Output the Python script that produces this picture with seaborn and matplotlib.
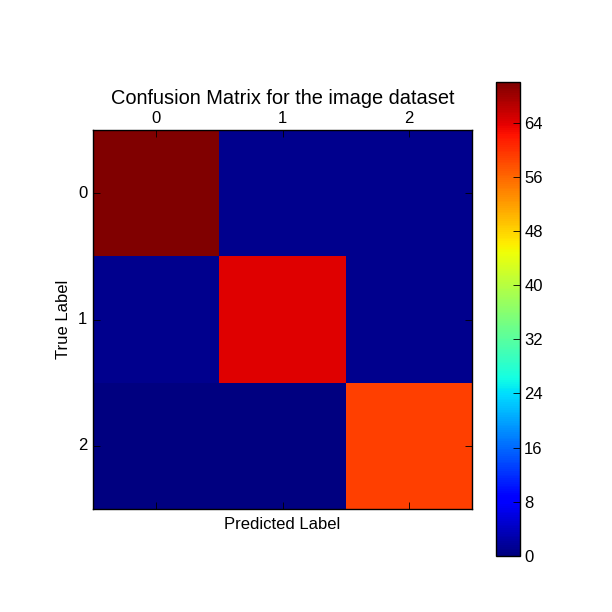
import matplotlib

matplotlib.use("Agg")
import matplotlib.pyplot as plt
import numpy as np
import seaborn as sns

class_labels = ["0", "1", "2"]
row_0 = [70, 1, 1]
row_1 = [1, 64, 1]
row_2 = [0, 0, 59]
cbar_ticks = [0, 8, 16, 24, 32, 40, 48, 56, 64]

sns.set_theme(style="white")
plt.rcParams["font.family"] = ["Liberation Sans", "DejaVu Sans"]

conf_mat = np.array([row_0, row_1, row_2])

fig = plt.figure(figsize=(6.12, 6.12), dpi=100)
ax = fig.add_axes([93 / 612, 1 - 509 / 612, 379 / 612, 379 / 612])
cax = fig.add_axes([496 / 612, 1 - 556 / 612, 24 / 612, 474 / 612])

sns.heatmap(
    conf_mat,
    ax=ax,
    cbar_ax=cax,
    cmap="jet",
    vmin=0,
    vmax=70,
    square=False,
    xticklabels=class_labels,
    yticklabels=class_labels,
    cbar_kws={"ticks": cbar_ticks},
)

# old matplotlib look: inward ticks on every side, x labels on top
ax.set_axisbelow(False)
cax.set_axisbelow(False)
for spine in ax.spines.values():
    spine.set_visible(True)
    spine.set_color("black")
    spine.set_linewidth(1)
ax.tick_params(
    axis="both", direction="in", length=5, width=0.6, color="black",
    top=True, bottom=True, left=True, right=True,
    labeltop=True, labelbottom=False, labelsize=12, labelcolor="black", pad=3,
)
ax.tick_params(axis="y", pad=4)
plt.setp(ax.get_yticklabels(), rotation=0, va="center")
plt.setp(ax.get_xticklabels(), rotation=0)

ax.set_title("Confusion Matrix for the image dataset", fontsize=14.4, color="black", pad=19)
ax.set_xlabel("Predicted Label", fontsize=12, color="black", labelpad=6)
ax.set_ylabel("True Label", fontsize=12, color="black", labelpad=5)

cbar = ax.collections[0].colorbar
cbar.outline.set_visible(True)
cbar.outline.set_edgecolor("black")
cbar.outline.set_linewidth(1)
cax.tick_params(
    axis="y", direction="in", length=5, width=0.6, color="black",
    right=True, left=False, labelsize=12, labelcolor="black", pad=3,
)

fig.savefig("out.png", dpi=100)
plt.close(fig)
